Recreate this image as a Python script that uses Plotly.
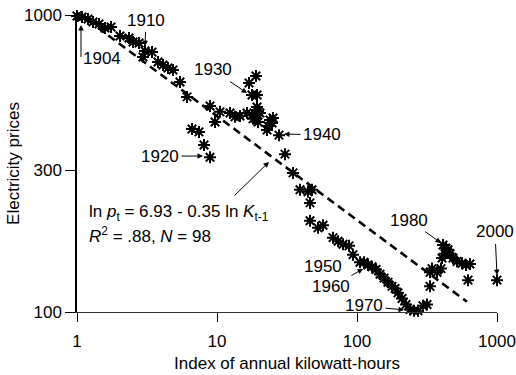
import math
import plotly.graph_objects as go

# Index of annual kilowatt-hours (K) and electricity price index (p)
kwh_index = [
    1.00, 1.086, 1.198, 1.301, 1.436, 1.585, 1.750, 2.028, 2.351, 2.512,
    2.773, 3.060, 3.434, 2.960, 3.790, 4.115, 4.467, 4.850, 5.441, 6.107,
    6.629, 7.436, 8.075, 8.913, 9.676, 8.913, 10.50, 12.38, 13.45, 14.60,
    16.38, 17.78, 18.69, 19.63, 20.28, 19.31, 17.78, 19.31, 16.93, 18.99,
    18.08, 19.63, 22.76, 23.14, 23.91, 25.12, 24.72, 27.73, 30.60, 34.91,
    39.17, 44.67, 47.71, 46.17, 46.17, 52.66, 57.19, 67.40, 73.17, 79.43,
    87.70, 93.63, 105.0, 112.2, 119.8, 128.0, 136.7, 146.0, 156.0, 166.5,
    177.8, 186.9, 196.3, 209.6, 223.9, 239.1, 255.3, 272.7, 296.0, 316.2,
    332.3, 332.3, 343.4, 372.8, 398.1, 411.5, 432.3, 425.3, 404.8, 461.6,
    485.0, 518.0, 562.3, 600.6, 641.4, 620.9, 1000.0, 446.7,
]
price_index = [
    992, 985, 969, 947, 933, 904, 911, 850, 837, 811,
    805, 756, 750, 722, 695, 679, 663, 653, 595, 530,
    413, 404, 365, 332, 436, 494, 472, 468, 454, 457,
    468, 461, 450, 436, 468, 490, 538, 538, 590, 623,
    447, 472, 410, 423, 443, 450, 433, 394, 340, 294,
    258, 254, 258, 233, 203, 192, 196, 178, 173, 169,
    167, 156, 147, 147, 144, 142, 139, 134, 130, 126,
    122, 120, 116, 111, 106, 102, 101, 101, 105, 106,
    122, 136, 140, 136, 140, 168, 164, 157, 152, 157,
    152, 148, 146, 144, 145, 128, 128, 162,
]

# Fitted regression: ln p_t = a - b ln K_(t-1)
fit_a = 6.93
fit_b = 0.35
fit_k_range = [1.0, 610.0]

x_ticks = [1, 10, 100, 1000]
y_ticks = [100, 300, 1000]

FONT = "Liberation Sans, Arial, sans-serif"
FS = 17

fit_p = [math.exp(fit_a - fit_b * math.log(k)) for k in fit_k_range]

fig = go.Figure()
fig.add_trace(go.Scatter(
    x=fit_k_range, y=fit_p, mode="lines",
    line=dict(color="black", width=2.5, dash="8px,5px"),
    hoverinfo="skip", showlegend=False,
))
fig.add_trace(go.Scatter(
    x=kwh_index, y=price_index, mode="markers",
    marker=dict(symbol="asterisk-open", size=10, color="black",
                line=dict(color="black", width=2)),
    cliponaxis=False, showlegend=False,
))


def lg(k, p):
    return math.log10(k), math.log10(p)


text_font = dict(family=FONT, size=FS, color="black")
annotations = []

# year labels with pointer arrows:
# (text, label K, label p, xanchor, arrow-head K, arrow-head p)
pointed_years = [
    ("1904", 1.068, 716.5, "left", 1.068, 925),
    ("1910", 3.11, 962, "center", 3.06, 786),
    ("1920", 3.92, 335, "center", 7.94, 335),
    ("1930", 9.36, 653, "center", 16.38, 546),
    ("1940", 56.2, 394.5, "center", 30.1, 397.5),
    ("1960", 65.2, 121.4, "center", 110.4, 139.6),
    ("1970", 112.2, 104.8, "center", 216.7, 101.6),
    ("1980", 235.2, 204, "center", 398, 170.8),
    ("2000", 967.6, 186, "center", 1000, 133.2),
]
for txt, tk, tp, xa, hk, hp in pointed_years:
    ax, ay = lg(tk, tp)
    x, y = lg(hk, hp)
    annotations.append(dict(
        x=x, y=y, ax=ax, ay=ay, xref="x", yref="y", axref="x", ayref="y",
        text=txt, xanchor=xa, yanchor="middle", font=text_font,
        showarrow=True, arrowhead=2, arrowsize=1.1, arrowwidth=1,
        arrowcolor="black", standoff=0, startstandoff=1))

# plain year label
x50, y50 = lg(57.2, 142.8)
annotations.append(dict(x=x50, y=y50, xref="x", yref="y", text="1950",
                        showarrow=False, font=text_font))

# regression equation and its pointer to the fitted line
ex, ey1 = lg(1.179, 215.4)
_, ey2 = lg(1.179, 181.7)
annotations.append(dict(
    x=ex, y=ey1, xref="x", yref="y", xanchor="left", yanchor="middle",
    text="ln <i>p</i><sub>t</sub> = 6.93 - 0.35 ln <i>K</i><sub>t-1</sub>",
    showarrow=False, font=text_font))
annotations.append(dict(
    x=ex, y=ey2, xref="x", yref="y", xanchor="left", yanchor="middle",
    text="<i>R</i><sup>2</sup> = .88, <i>N</i> = 98",
    showarrow=False, font=text_font))
tx, ty = lg(13.01, 243.9)
hx, hy = lg(23.5, 320)
annotations.append(dict(x=hx, y=hy, ax=tx, ay=ty, xref="x", yref="y",
                        axref="x", ayref="y", text="", showarrow=True,
                        arrowhead=2, arrowsize=1.1, arrowwidth=1,
                        arrowcolor="black", standoff=0))

fig.update_layout(
    width=516, height=375,
    margin=dict(l=77, r=19, t=15, b=63),
    paper_bgcolor="white", plot_bgcolor="white",
    font=text_font,
    annotations=annotations,
    showlegend=False,
)
fig.update_xaxes(
    type="log", range=[0, 3], tickvals=x_ticks, ticktext=[str(v) for v in x_ticks],
    ticks="outside", ticklen=9, tickwidth=1, tickcolor="black",
    ticklabelstandoff=5, automargin=False,
    showline=True, linecolor="#333333", linewidth=1, showgrid=False, zeroline=False,
    title=dict(text="Index of annual kilowatt-hours", standoff=6,
               font=dict(family=FONT, size=FS)),
)
fig.update_yaxes(
    type="log", range=[2, 3], tickvals=y_ticks, ticktext=[str(v) for v in y_ticks],
    ticks="outside", ticklen=10, tickwidth=1, tickcolor="black",
    automargin=False,
    showline=True, linecolor="black", linewidth=1.5, showgrid=False, zeroline=False,
    title=dict(text="Electricity prices", standoff=0,
               font=dict(family=FONT, size=FS)),
)

fig.write_html("out.html")
